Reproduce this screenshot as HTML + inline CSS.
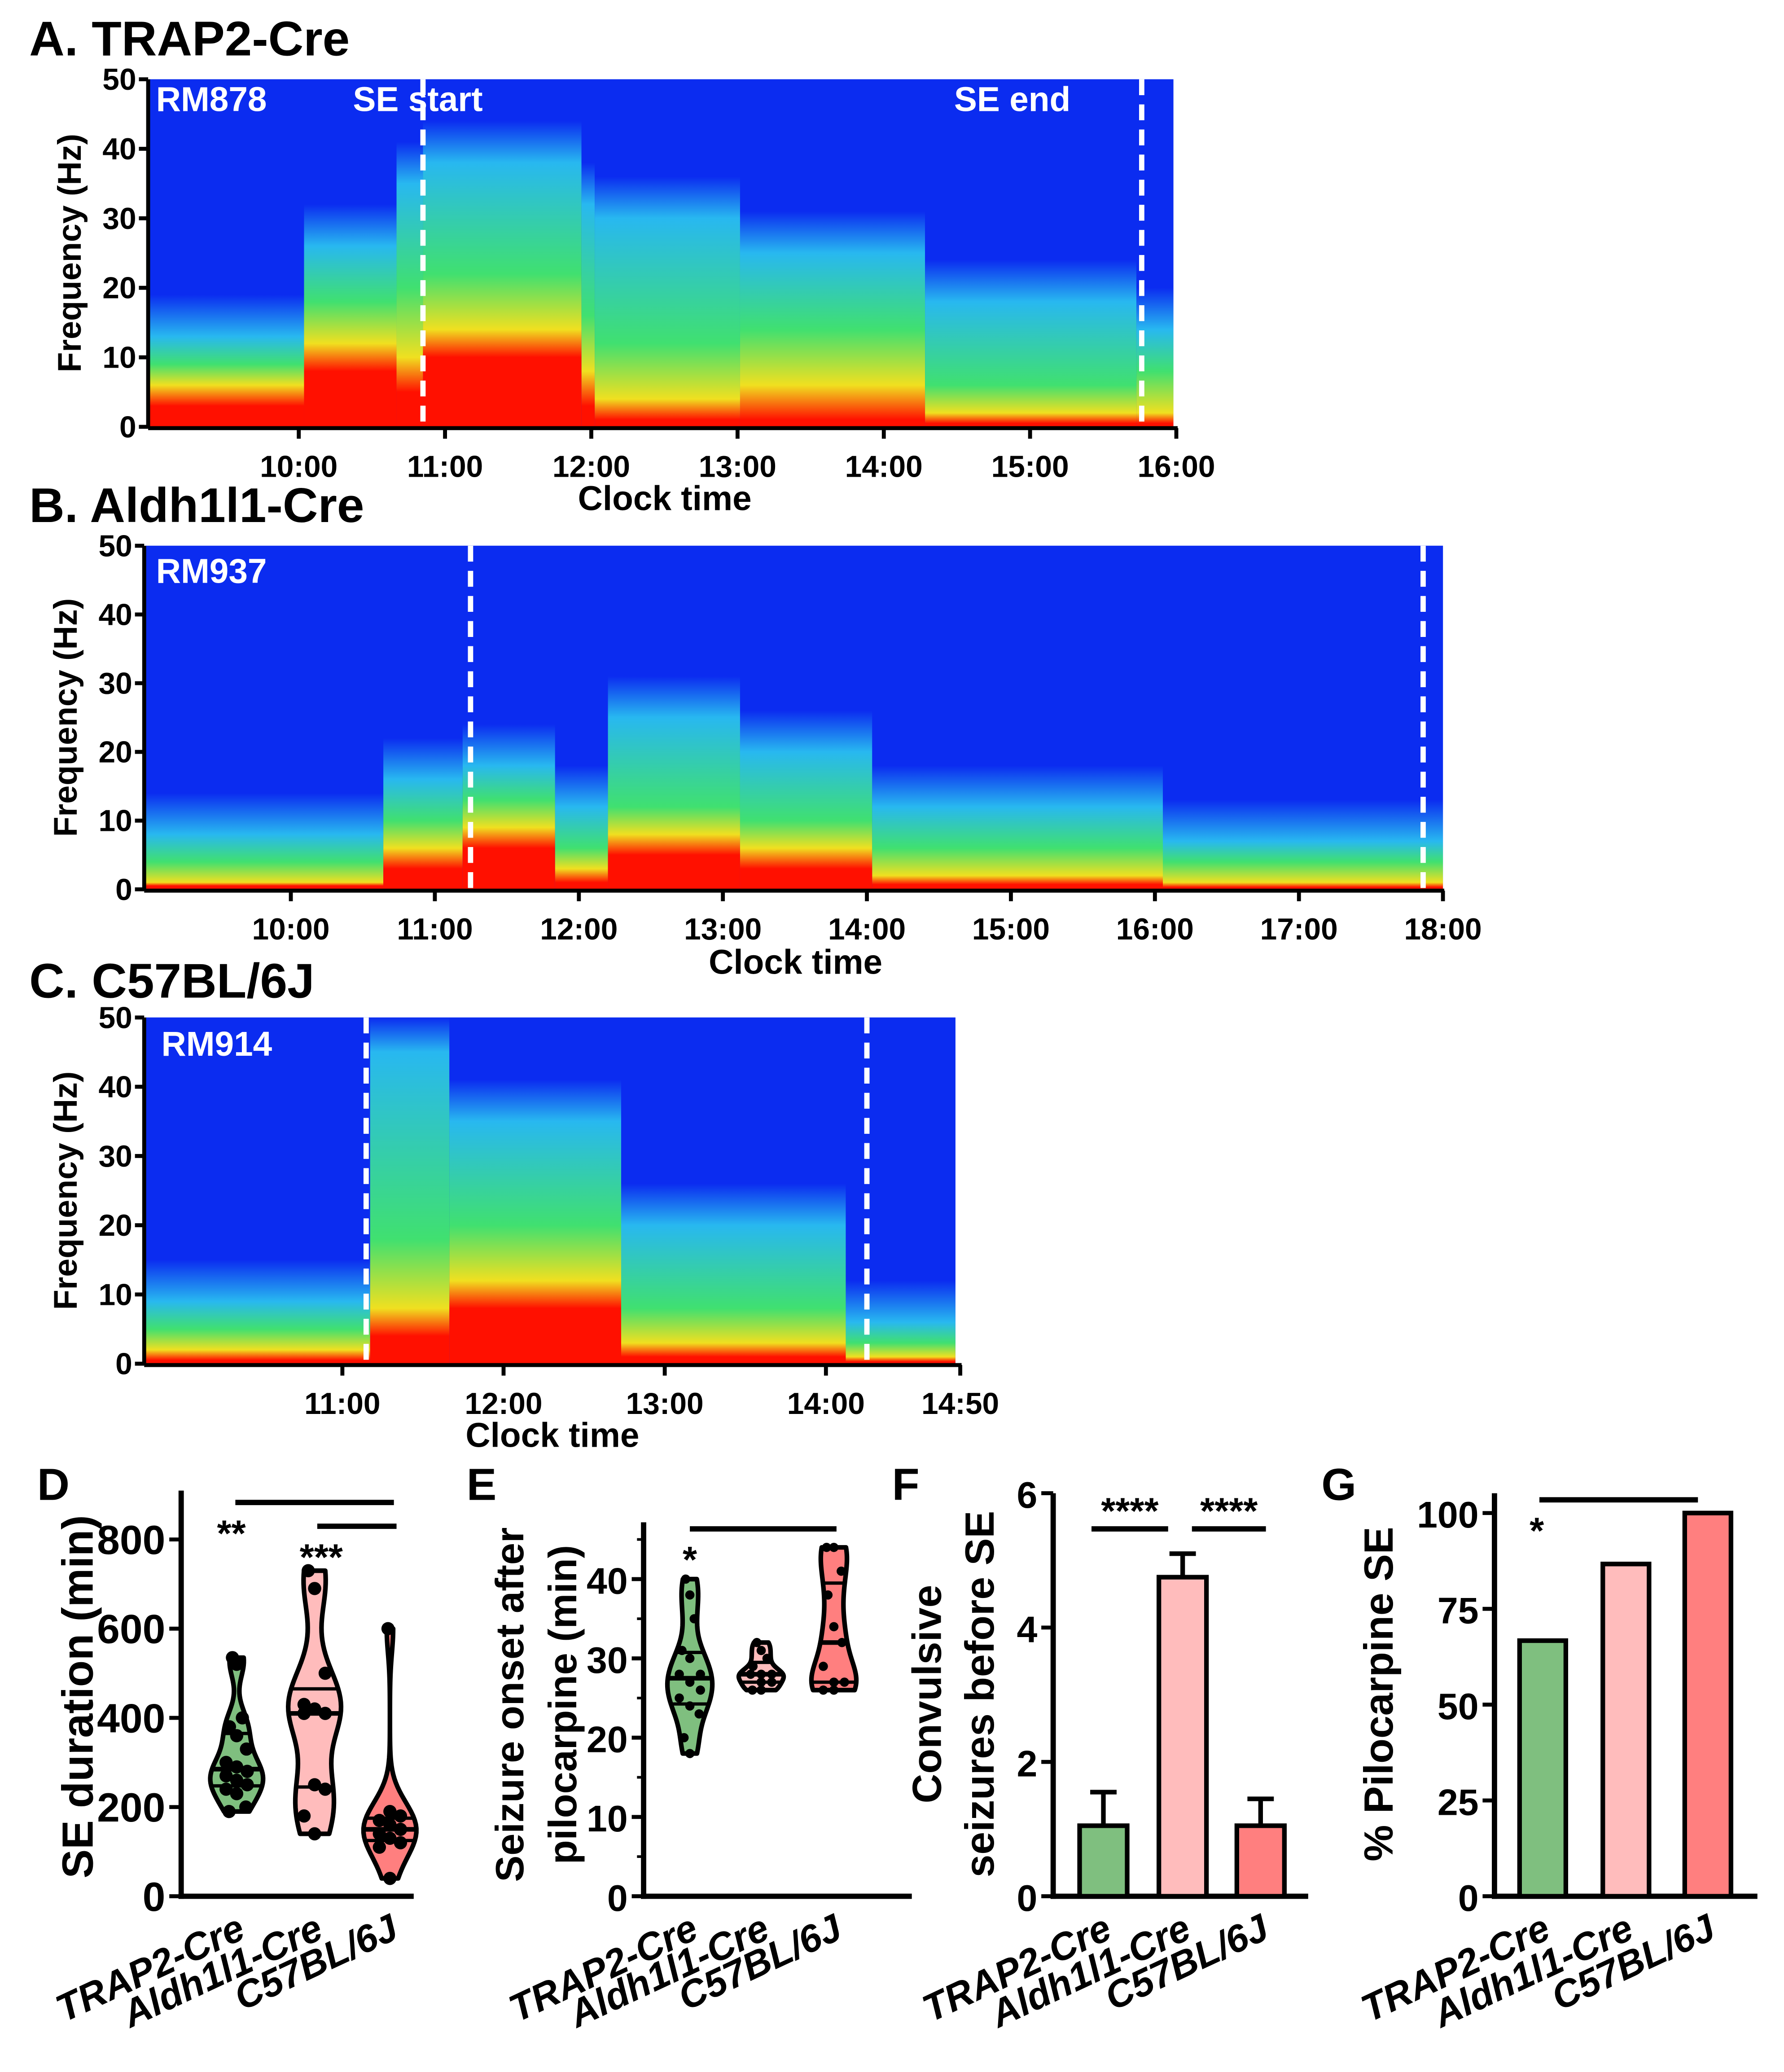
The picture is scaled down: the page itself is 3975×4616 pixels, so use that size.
<!DOCTYPE html>
<html><head><meta charset="utf-8"><style>
html,body{margin:0;padding:0;background:#fff}
svg{display:block}
text{font-family:"Liberation Sans",Arial,sans-serif;font-weight:bold}
</style></head><body>
<svg id="fig" xmlns="http://www.w3.org/2000/svg" width="3975" height="4616" viewBox="0 0 1350 1568">
<defs id="defs"></defs>
<rect width="1350" height="1568" fill="#fff"/>
<g id="root"></g>
</svg>
<script>
// ---- data ----
const groups = ["TRAP2-Cre","Aldh1l1-Cre","C57BL/6J"];
const colors = ["#7fbf7f","#ffbcbc","#ff7f7f"];
const dTrap = [535,520,400,380,360,330,300,290,280,270,260,250,240,230,200,190];
const dAldh = [730,690,500,430,420,410,410,250,240,180,140];
const dC57 = [600,190,180,170,160,150,140,130,120,110,40];
const eTrap = [40,38,35,31,30,28,28,27,26,25,24,23,20,18];
const eAldh = [32,31,30,29,28,28,28,27,27,26,26];
const eC57 = [44,44,41,38,34,32,29,27,27,26,26];
const fMeans = [1.05,4.75,1.05];
const fErr = [0.5,0.35,0.4];
const gPct = [66.7,86.7,100];
const dTicks = [0,200,400,600,800];
const eTicks = [0,10,20,30,40];
const fTicks = [0,2,4,6];
const gTicks = [0,25,50,75,100];
const freqTicks = [0,10,20,30,40,50];
const aTimes = ["10:00","11:00","12:00","13:00","14:00","15:00","16:00"];
const bTimes = ["10:00","11:00","12:00","13:00","14:00","15:00","16:00","17:00","18:00"];
const cTimes = ["11:00","12:00","13:00","14:00","14:50"];

const NS="http://www.w3.org/2000/svg";
const root=document.getElementById('root');
const defs=document.getElementById('defs');
function el(tag,attrs,parent,txt){const e=document.createElementNS(NS,tag);for(const k in attrs)e.setAttribute(k,attrs[k]);if(txt!==undefined)e.textContent=txt;(parent||root).appendChild(e);return e;}
function line(x1,y1,x2,y2,w,c,p){return el('line',{x1,y1,x2,y2,stroke:c||'#000','stroke-width':w||3},p);}
function hrs(s){const p=s.split(':');return +p[0]+(+p[1])/60;}

// ---- spectrograms ----
const BLUE="#0b2cf0";
let gid=0;
function spectro(name,x0,x1,yTop,yBot,segs,dash,labels,ticks,tickX0,tickStep,clockY,clockX){
  const g=el('g',{});
  
  
  el('rect',{x:x0,y:yTop,width:x1-x0,height:yBot-yTop,fill:BLUE},g);
  segs.forEach(s=>{
    const id='sg'+(gid++);
    const lg=el('linearGradient',{id,x1:0,y1:1,x2:0,y2:0},defs);
    const st=[[0,'#ff1000'],[s[2]/50,'#ff1000'],[s[3]/50,'#f0e020'],[s[4]/50,'#40e070'],[s[5]/50,'#28b8f0'],[Math.min(1,s[5]/50+0.12),BLUE],[1,BLUE]];
    st.forEach(o=>el('stop',{offset:o[0],'stop-color':o[1]},lg));
    const r=el('rect',{x:s[0],y:yTop,width:s[1]-s[0],height:yBot-yTop,fill:'url(#'+id+')'},g);
    
    
  });
  dash.forEach(x=>{const d=line(x,yTop,x,yBot,4,'#fff',g);d.setAttribute('stroke-dasharray','12 7');});
  labels.forEach(l=>{const t=el('text',{x:l[0],y:l[1],fill:'#fff','font-size':26},g,l[2]);});
  const ph=(yBot-yTop)/50;
  const h0=hrs(ticks[0]);
  const xEnd=tickX0+(hrs(ticks[ticks.length-1])-h0)*tickStep;
  line(x0-1,yTop,x0-1,yBot+1,3,'#000',g);
  line(x0-1,yBot+1,xEnd+1,yBot+1,3,'#000',g);
  freqTicks.forEach(v=>{const y=yBot-v*ph;line(x0-8,y,x0-1,y,3,'#000',g);
    const t=el('text',{x:x0-10,y:y+8,'text-anchor':'end','font-size':23},g,String(v));});
  const yl=el('text',{x:0,y:0,'text-anchor':'middle','font-size':25,transform:`translate(${x0-52},${(yTop+yBot)/2}) rotate(-90)`},g,'Frequency (Hz)');
  
  ticks.forEach(tk=>{const x=tickX0+(hrs(tk)-h0)*tickStep;line(x,yBot+1,x,yBot+9,3,'#000',g);
    const t=el('text',{x,y:yBot+38,'text-anchor':'middle','font-size':23},g,tk);});
  const ct=el('text',{x:clockX,y:clockY,'text-anchor':'middle','font-size':26},g,'Clock time');
  
}
function title(x,y,s,name,size){const t=el('text',{x,y,'font-size':size||37},root,s);}
title(22,42,'A. TRAP2-Cre','panel-a-title');
spectro('spectrogram-a',113,888,60,323,[
 [113,230,3,6,9,13],[230,300,8,12,18,26],[300,320,5,10,20,35],[320,440,10,14,22,38],[440,450,3,8,16,32],
 [450,560,1,4,12,30],[560,700,1,6,14,25],[700,860,0.5,2,6,18],[860,888,0.5,2,8,14]],
 [320,864],[[118,84,'RM878'],[267,84,'SE start'],[722,84,'SE end']],aTimes,226,110.7,386,503);
title(22,395,'B. Aldh1l1-Cre','panel-b-title');
spectro('spectrogram-b',110,1092,413,673,[
 [110,290,0.5,1,4,8],[290,350,3,6,10,16],[350,420,6,9,13,18],[420,460,1,3,6,12],[460,560,5,8,12,25],
 [560,660,3,6,10,20],[660,880,0.7,2,6,12],[880,1092,0.3,1,4,7]],
 [356,1077],[[118,441,'RM937']],bTimes,220,109,737,602);
title(22,755,'C. C57BL/6J','panel-c-title');
spectro('spectrogram-c',110,723,770,1032,[
 [110,280,0.5,2,5,9],[280,340,4,8,18,45],[340,470,8,12,20,35],[470,640,1,3,8,20],[640,723,0.3,1,3,6]],
 [277,656],[[122,799,'RM914']],cTimes,259,122,1095,418);

// ---- small panels ----
function axes(p){
  line(p.x0,p.yTop,p.x0,p.y0+2,4);
  line(p.x0-2,p.y0,p.x1,p.y0,4);
  p.ticks.forEach(v=>{const y=p.y0-v*p.s;line(p.x0-9,y,p.x0,y,3);
    const t=el('text',{x:p.x0-12,y:y+11,'text-anchor':'end','font-size':p.fs||30},root,String(v));
    });
}
function xlabels(xs,y){groups.forEach((gname,i)=>{const t=el('text',{x:0,y:0,'text-anchor':'end','font-size':29,'font-style':'italic',transform:`translate(${xs[i]+8},${y}) rotate(-25)`},root,gname);
  });}
function ylabel(lines,x,y,size){lines.forEach((s,i)=>{const t=el('text',{x:0,y:0,'text-anchor':'middle','font-size':size||30,transform:`translate(${x+i*40},${y}) rotate(-90)`},root,s);
  });}
function sig(x1,x2,y,txt,tx,ty){line(x1,y,x2,y,4);if(txt){const t=el('text',{x:tx,y:ty,'text-anchor':'middle','font-size':28},root,txt);}}
function quant(a,q){const s=[...a].sort((x,y)=>x-y);const pos=(s.length-1)*q;const lo=Math.floor(pos);return s[lo]+(s[Math.min(lo+1,s.length-1)]-s[lo])*(pos-lo);}
function violin(vals,cx,p,color,maxW,dot){
  const mn=Math.min(...vals),mx=Math.max(...vals);
  const mean=vals.reduce((b,c)=>b+c,0)/vals.length;
  const sd=Math.sqrt(vals.reduce((a,v)=>a+(v-mean)**2,0)/vals.length);
  const bw=1.06*sd*Math.pow(vals.length,-0.2)*0.6;
  const dens=v=>vals.reduce((a,x)=>a+Math.exp(-0.5*((v-x)/bw)**2),0);
  const N=60,pts=[];let dmax=0;
  for(let i=0;i<=N;i++){const v=mn+(mx-mn)*i/N;const d=dens(v);dmax=Math.max(dmax,d);pts.push([v,d]);}
  const w=v=>dens(v)/dmax*maxW;
  let dpath='';
  pts.forEach((q,i)=>{dpath+=(i?'L':'M')+(cx+q[1]/dmax*maxW)+','+(p.y0-q[0]*p.s);});
  for(let i=N;i>=0;i--){const q=pts[i];dpath+='L'+(cx-q[1]/dmax*maxW)+','+(p.y0-q[0]*p.s);}
  dpath+='Z';
  const v=el('path',{d:dpath,fill:color,stroke:'#000','stroke-width':3.5,'stroke-linejoin':'round'});
  
  [0.25,0.5,0.75].forEach(q=>{const val=quant(vals,q);const ww=w(val);const l=line(cx-ww,p.y0-val*p.s,cx+ww,p.y0-val*p.s,q===0.5?3.5:2.5);
    });
  vals.forEach((val,i)=>{const off=((i%3)-1)*Math.min(w(val)*0.6,8);const c=el('circle',{cx:cx+off,cy:p.y0-val*p.s,r:dot,fill:'#000'});
    });
}
// D
title(28,1135,'D','panel-d-label',34);
const pD={x0:137,x1:313,yTop:1128,y0:1435,s:(1435-1165)/800,ticks:dTicks,fs:31};
axes(pD);
[dTrap,dAldh,dC57].forEach((vals,i)=>violin(vals,[179,238,295][i],pD,colors[i],20,5));
sig(178,298,1137,'**',175,1170);sig(240,300,1155,'***',243,1188);
ylabel(['SE duration (min)'],70,1284,33);
xlabels([179,238,295],1466);
// E
title(353,1135,'E','panel-e-label',34);
const pE={x0:487,x1:690,yTop:1152,y0:1435,s:6,ticks:eTicks,fs:28};
axes(pE);
for(let v=5;v<=45;v+=10){line(487-5,1435-v*6,487,1435-v*6,2);}
[eTrap,eAldh,eC57].forEach((vals,i)=>violin(vals,[522,576,631][i],pE,colors[i],17,3.5));
sig(522,633,1157,'*',522,1190);
ylabel(['Seizure onset after','pilocarpine (min)'],396,1290,30);
xlabels([522,576,631],1466);
// F
title(675,1135,'F','panel-f-label',34);
const pF={x0:797,x1:990,yTop:1130,y0:1435,s:(1435-1130)/6,ticks:fTicks,fs:28};
axes(pF);
[817,877,936].forEach((x,i)=>{const y=1435-fMeans[i]*pF.s;
  const b=el('rect',{x,y,width:36,height:1435-y,fill:colors[i],stroke:'#000','stroke-width':3.5});
  
  const ye=1435-(fMeans[i]+fErr[i])*pF.s;line(x+18,y,x+18,ye,3.5);line(x+8,ye,x+28,ye,3.5);});
sig(826,884,1157,'****',855,1153);sig(902,958,1157,'****',930,1153);
ylabel(['Convulsive','seizures before SE'],712,1282,31);
xlabels([835,895,954],1466);
// G
title(1000,1135,'G','panel-g-label',34);
const pG={x0:1131,x1:1330,yTop:1130,y0:1435,s:(1435-1145)/100,ticks:gTicks,fs:28};
axes(pG);
[1150,1213,1275].forEach((x,i)=>{const y=1435-gPct[i]*pG.s;
  const b=el('rect',{x,y,width:35,height:1435-y,fill:colors[i],stroke:'#000','stroke-width':3.5});
  });
sig(1165,1285,1135,'*',1163,1168);
ylabel(['% Pilocarpine SE'],1054,1282,31);
xlabels([1167,1230,1292],1466);
</script>
</body></html>
